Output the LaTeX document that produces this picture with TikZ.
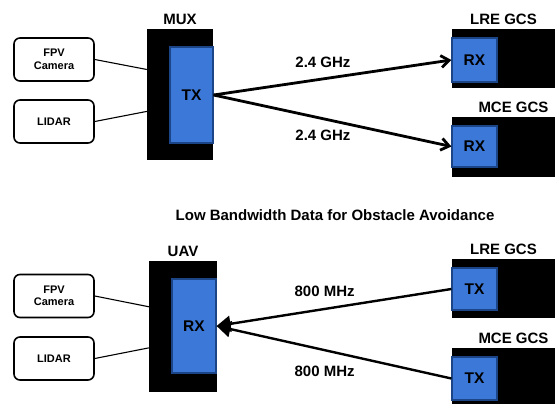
\documentclass[tikz,border=0pt]{standalone}
\usepackage{fontspec}
\setmainfont{Liberation Sans}
\usetikzlibrary{arrows.meta, positioning}

\definecolor{radioblue}{HTML}{3C78D8}
\definecolor{radioedge}{HTML}{1C4587}

\tikzset{
  sensor/.style={draw, line width=1.6pt, rounded corners=6pt, minimum width=80pt,
    minimum height=43pt, align=center, font=\bfseries\fontsize{11}{12.5}\selectfont},
  unit/.style={fill=black, inner sep=0pt},
  radio/.style={fill=radioblue, draw=radioedge, line width=1.2pt, inner sep=0pt,
    font=\bfseries\fontsize{15.5}{17}\selectfont},
  tag/.style={font=\bfseries\fontsize{15}{17}\selectfont, inner sep=1pt},
  link/.style={line width=2.8pt},
  wire/.style={line width=1.1pt},
}

\begin{document}
\begin{tikzpicture}[x=1pt, y=-1pt]
	\useasboundingbox (0,0) rectangle (555,404);
	\clip (0,0) rectangle (555,404);
	
	%Sender oben
	\node (fpv1) [sensor] at (54,59.5) {FPV\\Camera};
	\node (lidar1) [sensor] at (54,121.5) {LIDAR};
	\node (mux) [unit, minimum width=66pt, minimum height=131pt] at (180,94.5) {};
	\node (tx1) [radio, minimum width=43pt, minimum height=96pt] at (191.5,95) {TX};
	\node (muxlbl) [tag, above=3pt of mux] {MUX};
	
	\node (lre1) [unit, minimum width=103pt, minimum height=59pt] at (503.5,58.5) {};
	\node (rx1) [radio, minimum width=45pt, minimum height=44pt] at (474.5,60) {RX};
	\node (lre1lbl) [tag, above=3pt of lre1] {LRE GCS};
	
	\node (mce1) [unit, minimum width=103pt, minimum height=60pt] at (503.5,147) {};
	\node (rx2) [radio, minimum width=45pt, minimum height=41pt] at (474.5,146.5) {RX};
	\node (mce1lbl) [tag, above=3pt of mce1, xshift=10pt] {MCE GCS};
	
	%Verbindungen oben
	\draw[wire] (fpv1.east) -- (mux.143);
	\draw[wire] (lidar1.east) -- (mux.207);
	\path[link, -{Straight Barb[length=8pt, width=12pt]}]
	(tx1.east) edge node[tag, above=9pt, pos=0.46] {2.4 GHz} (rx1.west)
	(tx1.east) edge node[tag, below=9pt, pos=0.46] {2.4 GHz} (rx2.west);
	
	\node (title) [tag] at (335,215) {Low Bandwidth Data for Obstacle Avoidance};
	
	%Empfaenger unten
	\node (fpv2) [sensor] at (54,296) {FPV\\Camera};
	\node (lidar2) [sensor] at (54,358.5) {LIDAR};
	\node (uav) [unit, minimum width=68pt, minimum height=131pt] at (183,326.5) {};
	\node (rx3) [radio, minimum width=44pt, minimum height=94pt] at (194,326) {RX};
	\node (uavlbl) [tag, above=3pt of uav] {UAV};
	
	\node (lre2) [unit, minimum width=103pt, minimum height=59pt] at (503.5,288.5) {};
	\node (tx2) [radio, minimum width=45pt, minimum height=42pt] at (474.5,289) {TX};
	\node (lre2lbl) [tag, above=3pt of lre2] {LRE GCS};
	
	\node (mce2) [unit, minimum width=103pt, minimum height=62pt] at (503.5,379) {};
	\node (tx3) [radio, minimum width=45pt, minimum height=43pt] at (474.5,378.5) {TX};
	\node (mce2lbl) [tag, above=3pt of mce2, xshift=10pt] {MCE GCS};
	
	%Verbindungen unten
	\draw[wire] (fpv2.east) -- (uav.150);
	\draw[wire] (lidar2.east) -- (uav.212);
	\path[line width=2.4pt, -{Triangle[length=14pt, width=16pt]}]
	(tx2.west) edge node[tag, above=10pt, pos=0.54] {800 MHz} (rx3.east)
	(tx3.west) edge node[tag, below=14pt, pos=0.54] {800 MHz} (rx3.east);
	
\end{tikzpicture}
\end{document}
